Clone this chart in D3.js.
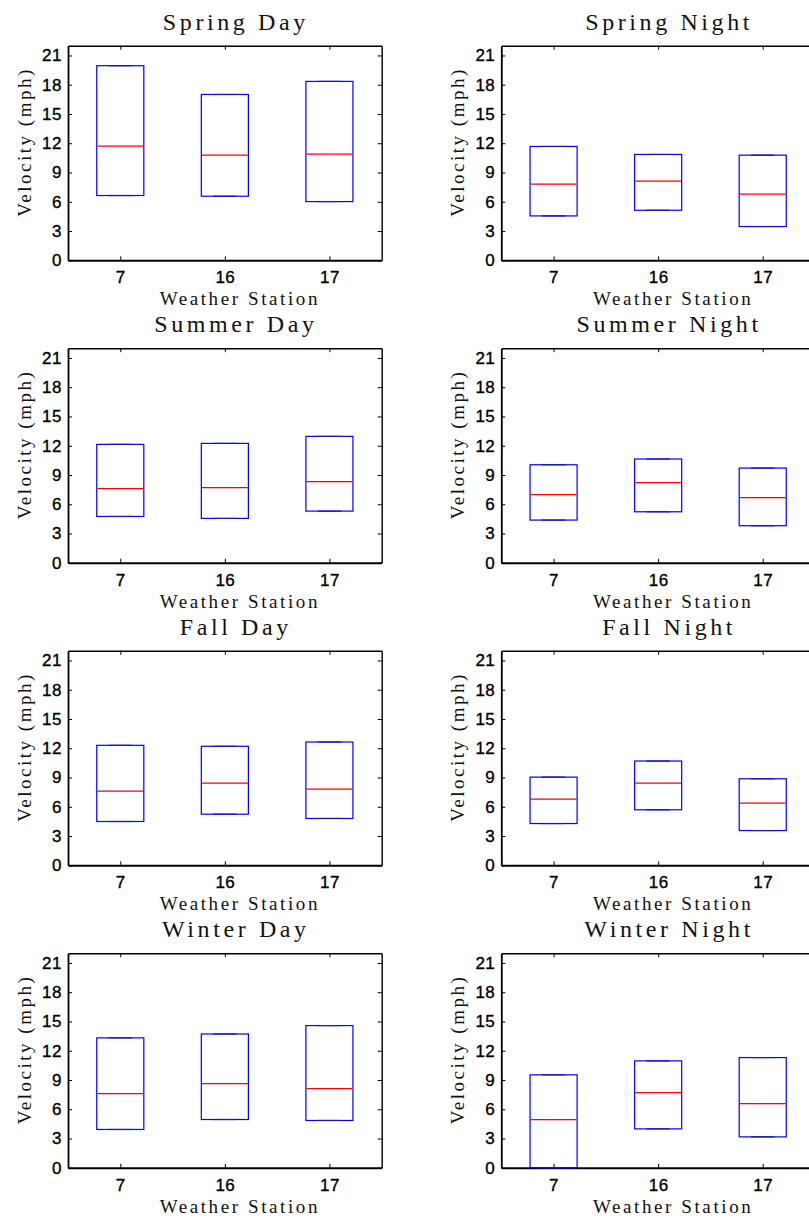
<!DOCTYPE html>
<html>
<head>
<meta charset="utf-8">
<script src="https://cdn.jsdelivr.net/npm/d3@7"></script>
<style>
  body { margin: 0; background: #fff; }
  svg { display: block; }
  .label { font-family: 'Liberation Serif', 'Times New Roman', serif; fill: #111; }
</style>
</head>
<body>
<div id="chart"></div>
<script>
// station names on the x axis
const stations = ['7', '16', '17'];

// one title per panel, row by row (day left, night right)
const panelTitles = [
  'Spring Day', 'Spring Night',
  'Summer Day', 'Summer Night',
  'Fall Day', 'Fall Night',
  'Winter Day', 'Winter Night',
];

// bottom edge of each box (mph), per panel, per station
const lowerValues = [
  [6.64, 6.57, 6.02], [4.55, 5.13, 3.46],
  [4.75, 4.55, 5.3], [4.38, 5.23, 3.8],
  [4.49, 5.24, 4.8], [4.28, 5.69, 3.56],
  [3.93, 4.95, 4.85], [0, 3.99, 3.17],
];

// red median line
const medianValues = [
  [11.77, 10.85, 10.95], [7.9, 8.11, 6.81],
  [7.63, 7.8, 8.34], [7.01, 8.28, 6.77],
  [7.67, 8.5, 7.88], [6.78, 8.5, 6.37],
  [7.68, 8.67, 8.2], [5.02, 7.72, 6.66],
];

// top edge of each box
const upperValues = [
  [19.95, 17.0, 18.34], [11.67, 10.85, 10.78],
  [12.14, 12.24, 12.96], [10.05, 10.64, 9.71],
  [12.3, 12.2, 12.64], [9.04, 10.69, 8.87],
  [13.32, 13.72, 14.58], [9.53, 10.96, 11.3],
];

const yTicks = [0, 3, 6, 9, 12, 15, 18, 21];

const WIDTH = 809;
const HEIGHT = 1218;

// helper - matlab style tick labels (helvetica-ish, a bit wide and heavy)
function styleTicks(axisG) {
  axisG.selectAll('.tick text')
    .style('font-family', "'Liberation Sans', Arial, sans-serif")
    .style('font-size', '17px')
    .style('letter-spacing', '0.5px')
    .attr('fill', '#000')
    .attr('stroke', '#000')
    .attr('stroke-width', 0.35);
}

// snap a y pixel to the middle of a pixel row so 1px lines stay sharp
const snap = (v) => Math.round(v) + 0.5;

class BoxPanel {
  constructor(svg, left, top, width, height) {
    this.g = svg.append('g').attr('transform', `translate(${left},${top})`);
    this.width = width;
    this.height = height;

    // positions 1,2,3 for the three stations
    this.x = d3.scaleLinear().domain([0.5, 3.5]).range([0, width]);
    this.y = d3.scaleLinear().domain([0, 22]).range([height, 0]);
  }

  drawAxes() {
    const tick = 4;
    const xTickVals = stations.map((s, i) => i + 1);

    // bottom axis, ticks point inwards
    this.g.append('g')
      .attr('transform', `translate(0,${this.height})`)
      .call(d3.axisBottom(this.x).tickValues(xTickVals).tickFormat((d) => stations[d - 1])
        .tickSizeInner(-tick).tickSizeOuter(0).tickPadding(11))
      .call(styleTicks)
      .call((a) => a.select('.domain').attr('stroke-width', 2));

    // left axis
    this.g.append('g')
      .call(d3.axisLeft(this.y).tickValues(yTicks).tickSizeInner(-tick).tickSizeOuter(0).tickPadding(6))
      .call(styleTicks)
      .call((a) => a.select('.domain').attr('stroke-width', 1.8));

    // top + right ticks with no labels (matlab box on)
    this.g.append('g')
      .call(d3.axisTop(this.x).tickValues(xTickVals).tickFormat('').tickSizeInner(-tick).tickSizeOuter(0))
      .call((a) => a.select('.domain').attr('stroke-width', 1.4));

    this.g.append('g')
      .attr('transform', `translate(${this.width},0)`)
      .call(d3.axisRight(this.y).tickValues(yTicks).tickFormat('').tickSizeInner(-tick).tickSizeOuter(0))
      .call((a) => a.select('.domain').attr('stroke-width', 1.4));
  }

  drawBoxes(lows, meds, highs) {
    const data = stations.map((s, i) => ({ pos: i + 1, low: lows[i], med: meds[i], high: highs[i] }));
    const half = 0.225;

    const boxes = this.g.selectAll('g.box').data(data).enter().append('g').attr('class', 'box');

    boxes.append('rect')
      .attr('x', (d) => this.x(d.pos - half))
      .attr('y', (d) => this.y(d.high))
      .attr('width', (d) => this.x(d.pos + half) - this.x(d.pos - half))
      .attr('height', (d) => this.y(d.low) - this.y(d.high))
      .attr('fill', 'none')
      .attr('stroke', '#0000ff')
      .attr('stroke-width', 1.2);

    // whisker caps sit right on the box edges
    ['low', 'high'].forEach((key) => {
      boxes.append('line')
        .attr('x1', (d) => this.x(d.pos - half / 2))
        .attr('x2', (d) => this.x(d.pos + half / 2))
        .attr('y1', (d) => this.y(d[key]))
        .attr('y2', (d) => this.y(d[key]))
        .attr('stroke', '#1a1a9a')
        .attr('stroke-width', 1.2);
    });

    boxes.append('line')
      .attr('x1', (d) => this.x(d.pos - half) + 0.6)
      .attr('x2', (d) => this.x(d.pos + half) - 0.6)
      .attr('y1', (d) => snap(this.y(d.med)))
      .attr('y2', (d) => snap(this.y(d.med)))
      .attr('stroke', '#ff0000')
      .attr('stroke-width', 1.2);
  }

  drawLabels(title) {
    const cx = this.width / 2;

    this.g.append('text')
      .attr('class', 'label')
      .attr('x', cx + 11)
      .attr('y', -16)
      .attr('text-anchor', 'middle')
      .style('font-size', '24px')
      .style('letter-spacing', '3.6px')
      .text(title);

    this.g.append('text')
      .attr('class', 'label')
      .attr('x', cx + 15)
      .attr('y', this.height + 45)
      .attr('text-anchor', 'middle')
      .style('font-size', '19px')
      .style('letter-spacing', '2.6px')
      .text('Weather Station');

    this.g.append('text')
      .attr('class', 'label')
      .attr('transform', `translate(-37,${this.height / 2 - 11}) rotate(-90)`)
      .attr('text-anchor', 'middle')
      .style('font-size', '19px')
      .style('letter-spacing', '2.5px')
      .text('Velocity (mph)');
  }
}

const svg = d3.select('#chart').append('svg').attr('width', WIDTH).attr('height', HEIGHT);

const colLefts = [68, 501.3];
const panelW = 313.7;
const panelH = 214.6;

panelTitles.forEach((title, i) => {
  const row = Math.floor(i / 2);
  const col = i % 2;
  const panel = new BoxPanel(svg, colLefts[col], 45.7 + row * 302.5, panelW, panelH);
  panel.drawAxes();
  panel.drawBoxes(lowerValues[i], medianValues[i], upperValues[i]);
  panel.drawLabels(title);
});
</script>
</body>
</html>
